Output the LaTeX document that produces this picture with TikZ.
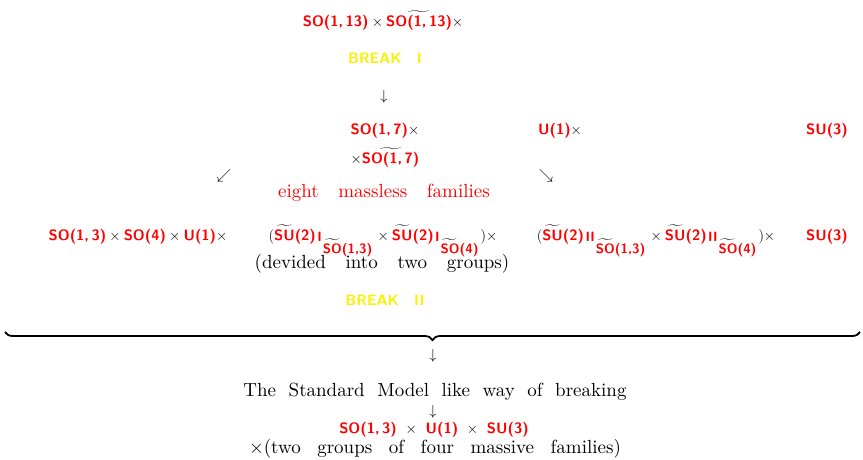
\documentclass[tikz,border=0pt]{standalone}
\usepackage{amsmath}
\usepackage{graphicx}
\usetikzlibrary{decorations.pathreplacing}
\definecolor{gred}{RGB}{255,0,0}
\definecolor{gyel}{RGB}{250,240,0}
\newcommand{\grp}[1]{\text{\color{gred}\sffamily\bfseries #1}}
\newcommand{\tgrp}[2]{\widetilde{\grp{#1}}\grp{#2}}
\newcommand{\ssub}[2]{\mbox{\fontsize{13.5}{16}\selectfont\hspace{1.5pt}\raisebox{-1pt}{\color{gred}\sffamily\bfseries #1}\hspace{1pt}\raisebox{-13pt}{$\widetilde{\grp{SO}}\grp{#2}$}\hspace{2pt}}}
\newcommand{\serif}[1]{\scalebox{1.9}{\fontsize{10}{12}\selectfont #1}}
\tikzset{
  lbl/.style={inner sep=0pt, font=\fontsize{15}{18}\selectfont},
  txt/.style={inner sep=0pt},
  brk/.style={inner sep=0pt, text=gyel, font=\fontsize{15}{18}\selectfont\sffamily\bfseries},
  note/.style={txt, text=gred},
  arr/.style={lbl},
  bracestyle/.style={decorate, decoration={brace, mirror, amplitude=8pt}, line width=1.8pt}
}
\begin{document}
\begin{tikzpicture}[x=1pt, y=-1pt]
\useasboundingbox (0,0) rectangle (863,459);
\node[lbl] (l1) at (383,20) {$\grp{SO(1,\,13)}\times\widetilde{\grp{SO(1,\,13)}}\times$};
\node[brk] (br1) at (385,58) {BREAK\quad I};
\node[arr] (a1) at (384,97) {$\downarrow$};
\node[lbl] (so7a) at (385,131) {$\grp{SO(1,\,7)}\times$};
\node[lbl] (so7b) at (385,157) {$\times\widetilde{\grp{SO(1,\,7)}}$};
\node[lbl] (u1) at (560,131) {$\grp{U(1)}\times$};
\node[lbl] (su3) at (827,131) {$\grp{SU(3)}$};
\node[arr] (a2) at (224,176) {$\swarrow$};
\node[arr] (a3) at (546,176) {$\searrow$};
\node[note] (eight) at (384,193) {\serif{eight\hspace{10.3pt}massless\hspace{10.3pt}families}};
\node[lbl, anchor=base] (r1) at (138,240) {$\grp{SO(1,\,3)}\times\grp{SO(4)}\times\grp{U(1)}\times$};
\node[lbl, anchor=base] (r2) at (383,240) {$(\tgrp{SU}{(2)}\ssub{I}{(1,3)}\times\tgrp{SU}{(2)}\ssub{I}{(4)})\times$};
\node[lbl, anchor=base] (r3) at (656,240) {$(\tgrp{SU}{(2)}\ssub{II}{(1,3)}\times\tgrp{SU}{(2)}\ssub{II}{(4)})\times$};
\node[lbl, anchor=base] (su3b) at (827,240) {$\grp{SU(3)}$};
\node[txt] (dev) at (382,264) {\serif{(devided\hspace{10.4pt}into\hspace{10.4pt}two\hspace{10.4pt}groups)}};
\node[brk] (br2) at (385,300) {BREAK\quad II};
\coordinate (bl) at (5,332);
\coordinate (br) at (860,332);
\draw[bracestyle] (bl) -- (br);
\node[arr] (a4) at (433,356) {$\downarrow$};
\node[txt] (sm) at (435,392) {\serif{The\hspace{6.6pt}Standard\hspace{6.6pt}Model\hspace{6.6pt}like\hspace{6.6pt}way\hspace{6.6pt}of\hspace{6.6pt}breaking}};
\node[arr] (a5) at (433,412) {$\downarrow$};
\node[lbl] (fin) at (434,430) {$\grp{SO(1,\,3)}\mskip7mu\times\mskip7mu\grp{U(1)}\mskip7mu\times\mskip7mu\grp{SU(3)}$};
\node[txt] (fam) at (435,449) {\serif{$\times$(two\hspace{8.7pt}groups\hspace{8.7pt}of\hspace{8.7pt}four\hspace{8.7pt}massive\hspace{8.7pt}families)}};
\end{tikzpicture}
\end{document}
